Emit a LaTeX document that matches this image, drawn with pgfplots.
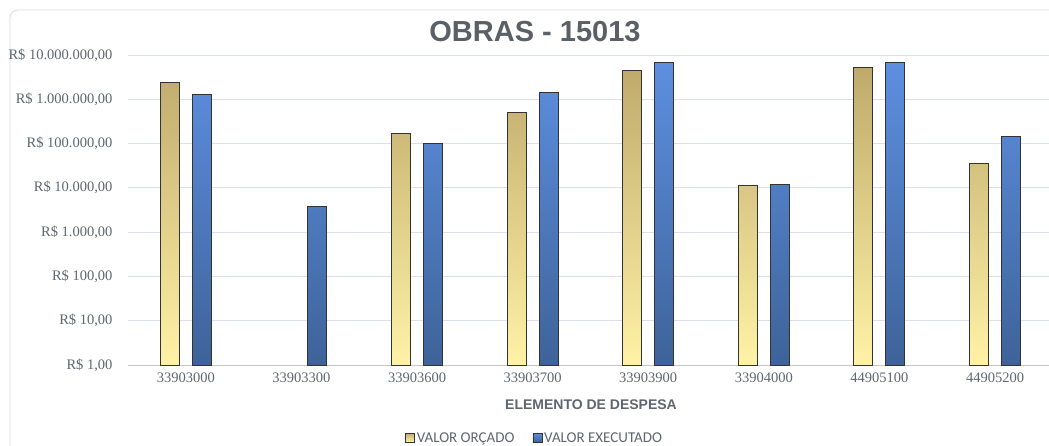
\documentclass[border=0pt]{standalone}
\usepackage{pgfplots}
\pgfplotsset{compat=1.18}
\usepackage{fontspec}
\setmainfont{Liberation Serif}
\newfontfamily\arialf{Liberation Sans}
\newfontfamily\calibrif{Carlito}
\definecolor{txtgray}{HTML}{5F6670}
\definecolor{titlegray}{HTML}{5A6066}
\definecolor{gridc}{HTML}{DCDFEC}
\definecolor{orctop}{HTML}{BFAA6C}
\definecolor{orcmid}{HTML}{F0CB8C}
\definecolor{orcbot}{HTML}{FFF2A6}
\definecolor{exetop}{HTML}{5D8FE0}
\definecolor{exebot}{HTML}{3E6399}
\definecolor{edgec}{HTML}{333333}
\begin{document}
\begin{tikzpicture}[x=1pt,y=1pt]
\useasboundingbox (0,0) rectangle (1049,445);
\draw[gray!30, rounded corners=8pt, line width=0.8pt] (10,435) rectangle (1080,-20);
\node[font=\arialf\bfseries\fontsize{29}{34}\selectfont, text=titlegray] at (535,413) {OBRAS - 15013};
\begin{axis}[
  at={(128pt,80pt)}, anchor=south west,
  scale only axis, width=924.8pt, height=310pt,
  ymode=log, log basis y=10, ymin=1, ymax=1e7,
  xmin=-0.5, xmax=7.5,
  ybar=13pt, bar width=19pt,
  xtick={0,1,2,3,4,5,6,7},
  xticklabels={33903000,33903300,33903600,33903700,33903900,33904000,44905100,44905200},
  ytick={1,10,100,1000,10000,100000,1000000,10000000},
  yticklabels={R\$ 1{,}00,R\$ 10{,}00,R\$ 100{,}00,R\$ 1.000{,}00,R\$ 10.000{,}00,R\$ 100.000{,}00,R\$ 1.000.000{,}00,R\$ 10.000.000{,}00},
  yminorticks=false,
  ymajorgrids, grid style={draw=gridc, line width=0.8pt},
  axis lines*=left,
  y axis line style={draw=none},
  x axis line style={draw=gray!45, line width=0.8pt},
  tick style={draw=none},
  major tick length=0pt,
  yticklabel style={font=\fontsize{14.5}{16}\selectfont, text=txtgray, xshift=-12pt},
  xticklabel style={font=\fontsize{14.5}{16}\selectfont, text=txtgray, yshift=-4pt},
  legend style={at={(0.4396,-0.2355)}, anchor=center, draw=none, fill=none,
    legend columns=2, font=\calibrif\fontsize{15}{17}\selectfont, text=txtgray,
    /tikz/every even column/.append style={column sep=16pt},
    legend cell align=left},
  clip=false,
]
\addplot[draw=edgec, line width=1pt, top color=orctop, middle color=orcmid, bottom color=orcbot,
  legend image code/.code={\draw[draw=edgec, line width=0.7pt, fill=orcmid!70!orcbot] (0pt,-4pt) rectangle (9pt,5pt);}]
  coordinates {(0,2.4e6) (2,1.7e5) (3,5.1e5) (4,4.5e6) (5,1.15e4) (6,5.3e6) (7,3.6e4)};
\addplot[draw=edgec, line width=1pt, top color=exetop, bottom color=exebot,
  legend image code/.code={\draw[draw=edgec, line width=0.7pt, fill=exetop!70!exebot] (0pt,-4pt) rectangle (9pt,5pt);}]
  coordinates {(0,1.3e6) (1,3700) (2,1.0e5) (3,1.45e6) (4,6.9e6) (5,1.2e4) (6,6.9e6) (7,1.45e5)};
\legend{VALOR ORÇADO,VALOR EXECUTADO}
\end{axis}
\node[font=\arialf\bfseries\fontsize{14}{16}\selectfont, text=txtgray] at (591,40) {ELEMENTO DE DESPESA};
\end{tikzpicture}
\end{document}
